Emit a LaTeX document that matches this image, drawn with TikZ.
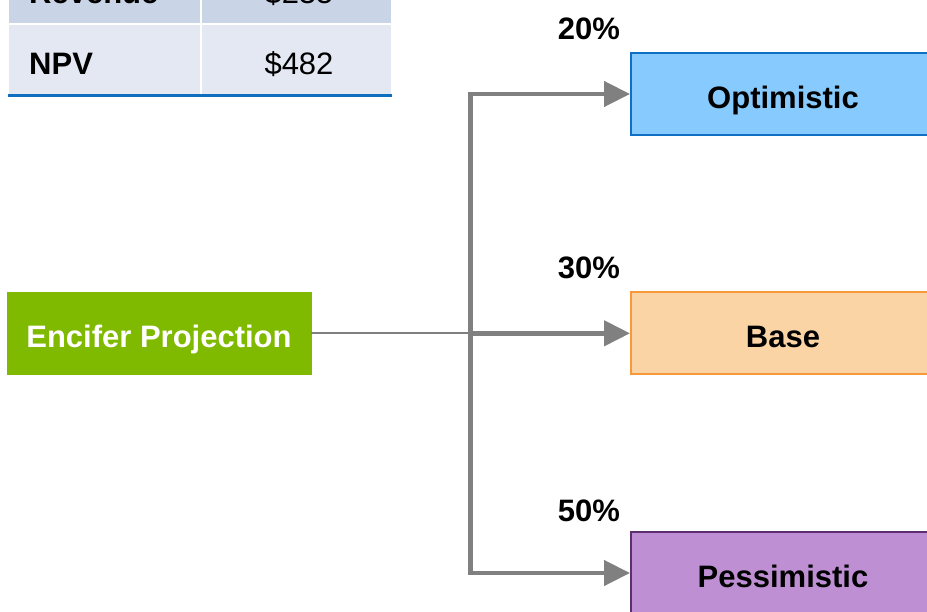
\documentclass[tikz,border=0pt]{standalone}
\usepackage{fontspec}
\setmainfont{Liberation Sans}
\usetikzlibrary{arrows.meta}
\definecolor{rowA}{HTML}{C9D4E7}
\definecolor{rowB}{HTML}{E3E8F2}
\definecolor{tblue}{HTML}{0E6EC0}
\definecolor{encgreen}{HTML}{7FBA00}
\definecolor{optfill}{HTML}{87CAFD}
\definecolor{optdraw}{HTML}{0F6FC4}
\definecolor{basefill}{HTML}{FAD4A4}
\definecolor{basedraw}{HTML}{F7993A}
\definecolor{pesfill}{HTML}{BF8FD3}
\definecolor{pesdraw}{HTML}{5C3070}
\definecolor{linegray}{HTML}{808080}
\begin{document}
\begin{tikzpicture}[x=1pt,y=-1pt,
  bigfont/.style={font=\fontsize{31}{36}\selectfont},
  scenario/.style={draw, line width=2pt, minimum width=304pt, minimum height=82pt,
    inner sep=0pt, bigfont, font=\fontsize{31}{36}\selectfont\bfseries,
    text height=30pt, text depth=2pt},
  pct/.style={inner sep=0pt, font=\fontsize{31}{36}\selectfont\bfseries,
    text height=22pt, text depth=0pt},
  cell/.style={inner sep=0pt, font=\fontsize{31}{36}\selectfont},
  conn/.style={draw=linegray, line width=4.5pt, -{Triangle[length=26pt,width=25pt]}},
  feed/.style={draw=linegray, line width=2pt}]
\useasboundingbox (0,0) rectangle (927,611);
\clip (0,0) rectangle (927,611);
% table
\fill[rowA] (9,-47) rectangle (199.5,23);
\fill[rowA] (201.5,-47) rectangle (391,23);
\fill[rowB] (9,25) rectangle (199.5,94);
\fill[rowB] (201.5,25) rectangle (391,94);
\draw[tblue, line width=3pt] (8,95.5) -- (392,95.5);
\node[cell, anchor=base west, font=\fontsize{31}{36}\selectfont\bfseries] (rev) at (29,3) {Revenue};
\node[cell, anchor=base] (revv) at (299,3) {\$235};
\node[cell, anchor=base west, font=\fontsize{31}{36}\selectfont\bfseries] (npv) at (29,74) {NPV};
\node[cell, anchor=base] (npvv) at (299,74) {\$482};
% nodes
\node[scenario, draw=encgreen, fill=encgreen, text=white, line width=0pt] (enc) at (159,333.3) {Encifer Projection};
\node[scenario, draw=optdraw, fill=optfill] (opt) at (783,94) {Optimistic};
\node[scenario, draw=basedraw, fill=basefill] (base) at (783,333.3) {Base};
\node[scenario, draw=pesdraw, fill=pesfill] (pes) at (783,573) {Pessimistic};
% probabilities
\node[pct] (p1) at (589,28) {20\%};
\node[pct] (p2) at (589,267) {30\%};
\node[pct] (p3) at (589,510) {50\%};
% connectors
\coordinate (j) at (470.5,333.3);
\draw[feed] (enc.east) -- (j);
\draw[conn] (j) |- (opt.west);
\draw[conn] (j) -- (base.west);
\draw[conn] (j) |- (pes.west);
\end{tikzpicture}
\end{document}
